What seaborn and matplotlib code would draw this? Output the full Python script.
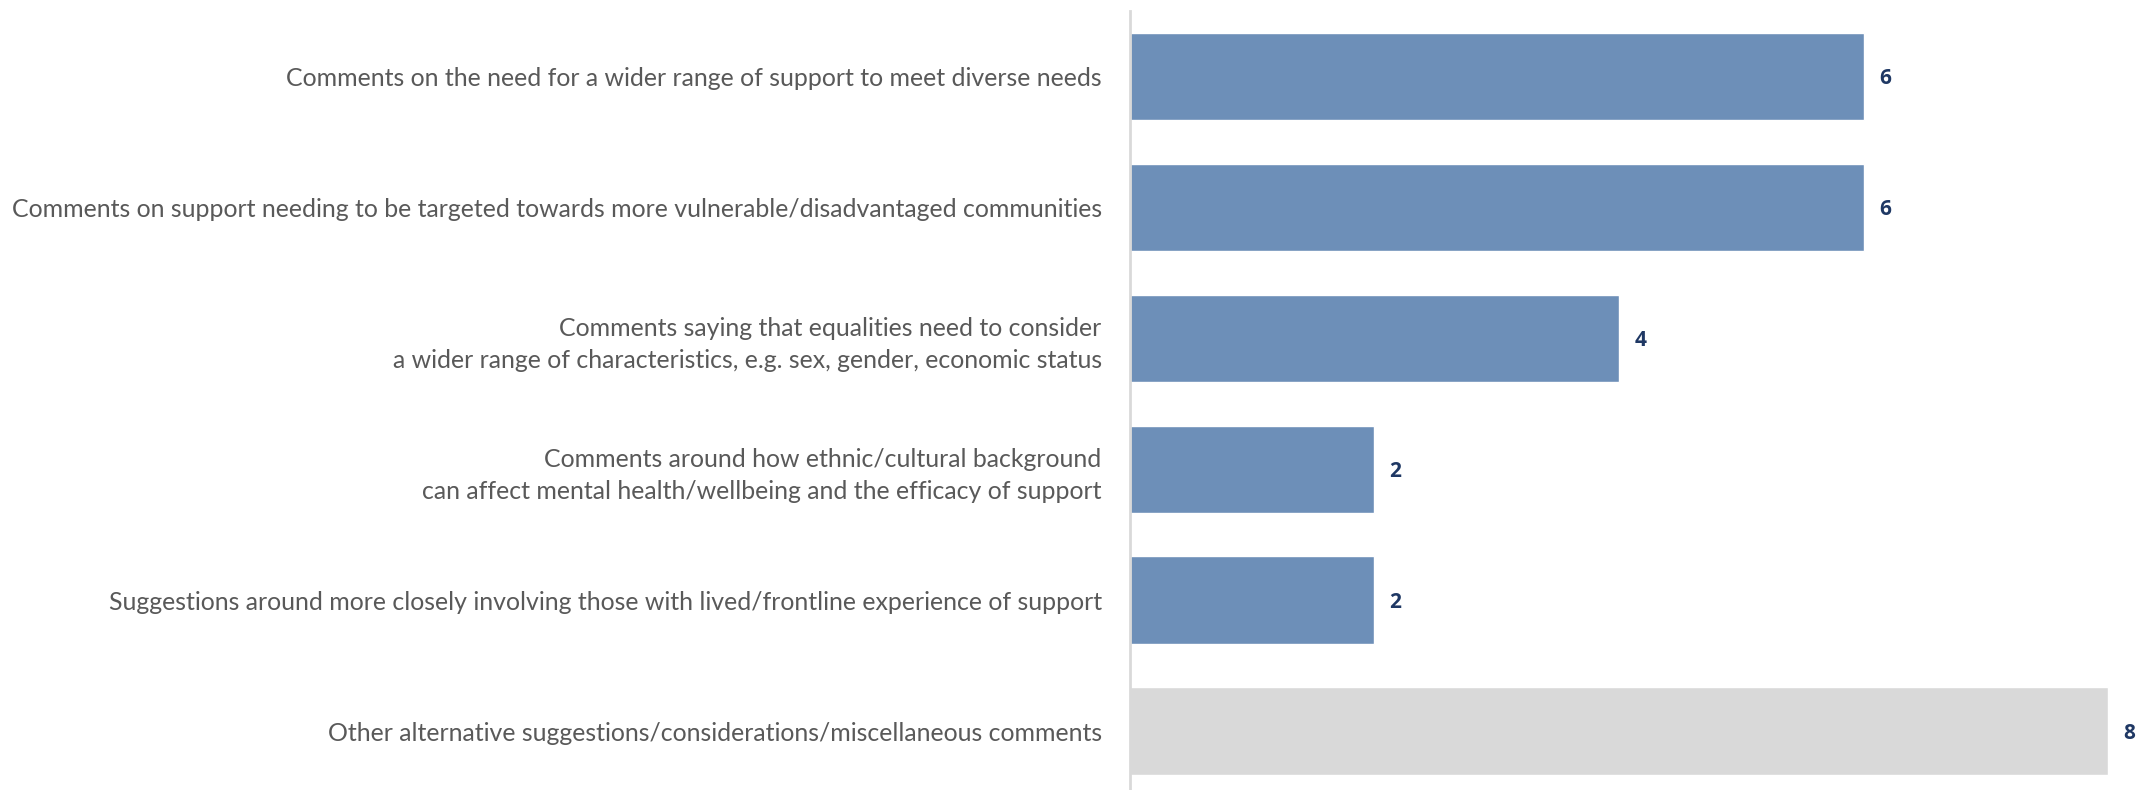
import matplotlib
matplotlib.use("Agg")
import matplotlib.pyplot as plt
import seaborn as sns
import pandas as pd

categories = [
    "Comments on the need for a wider range of support to meet diverse needs",
    "Comments on support needing to be targeted towards more vulnerable/disadvantaged communities",
    "Comments saying that equalities need to consider\na wider range of characteristics, e.g. sex, gender, economic status",
    "Comments around how ethnic/cultural background\ncan affect mental health/wellbeing and the efficacy of support",
    "Suggestions around more closely involving those with lived/frontline experience of support",
    "Other alternative suggestions/considerations/miscellaneous comments",
]
counts = [6, 6, 4, 2, 2, 8]
bar_colors = ["#6D8FB8", "#6D8FB8", "#6D8FB8", "#6D8FB8", "#6D8FB8", "#D9D9D9"]

sns.set_theme(style="white")
plt.rcParams["font.family"] = ["Lato", "DejaVu Sans"]

df = pd.DataFrame({"category": categories, "count": counts})

fig = plt.figure(figsize=(21.39, 7.90), dpi=100)
ax = fig.add_axes([1129.5 / 2139, 0, 1 - 1129.5 / 2139, 1 - 11 / 790])

sns.barplot(
    data=df, x="count", y="category", hue="category",
    palette=dict(zip(categories, bar_colors)), legend=False,
    width=0.667, saturation=1, ax=ax,
)

# value labels just past the end of each bar
for cont in ax.containers:
    labels = ax.bar_label(cont, padding=11, fontsize=15, fontweight="bold",
                          color="#1F3864", family=["Open Sans", "DejaVu Sans"])
    for t in labels:
        t.set_va("center_baseline")

ax.set_xlim(0, 8.25)
ax.set_ylim(5.45, -0.5)
ax.set_xlabel("")
ax.set_ylabel("")
ax.set_xticks([])
ax.tick_params(axis="y", length=0, pad=20, labelsize=17.9, labelcolor="#595959")
for lbl in ax.get_yticklabels():
    lbl.set_linespacing(1.45)

for side in ["top", "right", "bottom"]:
    ax.spines[side].set_visible(False)
ax.spines["left"].set_color("#D9D9D9")
ax.spines["left"].set_linewidth(2)

fig.savefig("out.png", dpi=100)
